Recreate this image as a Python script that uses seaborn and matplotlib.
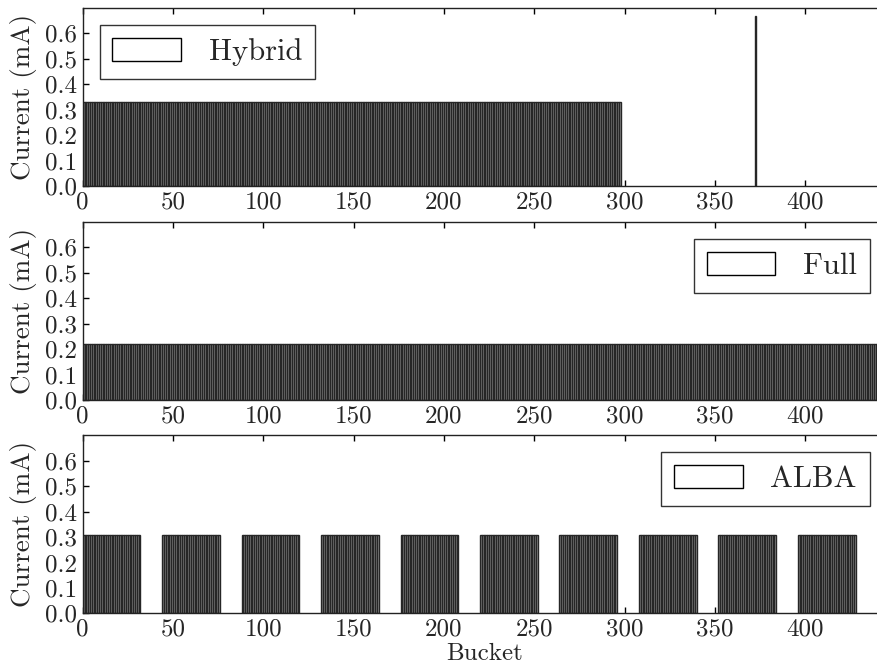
import numpy as np
import pandas as pd
import matplotlib
matplotlib.use("Agg")
import matplotlib.pyplot as plt
from matplotlib.patches import Patch
import seaborn as sns

# ---------------- data ----------------
n_buckets = 448
# Hybrid: one long train plus a single high-charge bunch
hybrid_train_first, hybrid_train_last = 0, 297
hybrid_train_current = 0.332
hybrid_single_bucket = 372
hybrid_single_current = 0.668
# Full: every bucket filled
full_current = 0.222
# ALBA: 10 trains of 32 bunches, one train every 44 buckets
alba_train_starts = [0, 44, 88, 132, 176, 220, 264, 308, 352, 396]
alba_train_length = 32
alba_current = 0.309

panel_names = ["Hybrid", "Full", "ALBA"]
legend_locs = ["upper left", "upper right", "upper right"]
x_ticks = [0, 50, 100, 150, 200, 250, 300, 350, 400]
y_ticks = [0.0, 0.1, 0.2, 0.3, 0.4, 0.5, 0.6]

# build per-bucket current tables
buckets = np.arange(n_buckets)
hybrid = np.zeros(n_buckets)
hybrid[hybrid_train_first:hybrid_train_last + 1] = hybrid_train_current
hybrid[hybrid_single_bucket] = hybrid_single_current
full = np.full(n_buckets, full_current)
alba = np.zeros(n_buckets)
for s in alba_train_starts:
    alba[s:s + alba_train_length] = alba_current
patterns = {"Hybrid": hybrid, "Full": full, "ALBA": alba}

# ---------------- style ----------------
sns.set_style("white")
plt.rcParams["font.family"] = ["cmr10", "DejaVu Serif"]
plt.rcParams["axes.formatter.use_mathtext"] = True
plt.rcParams["mathtext.fontset"] = "cm"
plt.rcParams["axes.unicode_minus"] = False

fig = plt.figure(figsize=(8.78, 6.68), dpi=100)

px_w, px_h = 878.0, 668.0
left_px = 82.7
scale = 1.806
xmax = 445
ax_w = xmax * scale / px_w
ax_h = 178.0 / px_h
bottoms_px = [186.0, 400.0, 613.3]

axes = []
for i, name in enumerate(panel_names):
    ax = fig.add_axes([left_px / px_w, 1 - bottoms_px[i] / px_h, ax_w, ax_h])
    axes.append(ax)
    cur = patterns[name]
    mask = cur > 0
    df = pd.DataFrame({"pos": buckets[mask] + 0.5, "current": cur[mask]})
    sns.barplot(data=df, x="pos", y="current", native_scale=True, orient="x",
                width=1.0, color="#9a9a9a", edgecolor="#262626", linewidth=1.0,
                saturation=1, errorbar=None, ax=ax)
    ax.set_xlim(0, xmax)
    ax.set_ylim(0, 0.7)
    ax.set_xticks(x_ticks)
    ax.set_xticklabels([str(t) for t in x_ticks])
    ax.set_yticks(y_ticks)
    ax.set_yticklabels([f"{t:.1f}" for t in y_ticks])
    ax.tick_params(axis="both", which="major", direction="in", length=4.5,
                   width=1.0, labelsize=18, color="black",
                   top=True, bottom=True, left=True, right=True, pad=4)
    for sp in ax.spines.values():
        sp.set_linewidth(1.0)
        sp.set_color("#222222")
    ax.set_xlabel("")
    ax.set_ylabel("Current (mA)", fontsize=19.5)
    ax.yaxis.set_label_coords(-0.057, 0.5)
    handle = Patch(facecolor="white", edgecolor="black", linewidth=1.0)
    leg = ax.legend([handle], [name], loc=legend_locs[i], fontsize=22,
                    frameon=True, fancybox=False, borderaxespad=0.55,
                    handlelength=2.25, handleheight=0.78, handletextpad=0.9,
                    borderpad=0.42)
    leg.get_frame().set_edgecolor("black")
    leg.get_frame().set_linewidth(1.0)

axes[2].set_xlabel("Bucket", fontsize=18)
axes[2].xaxis.set_label_coords(0.5, -0.165)

fig.savefig("out.png", dpi=100)
